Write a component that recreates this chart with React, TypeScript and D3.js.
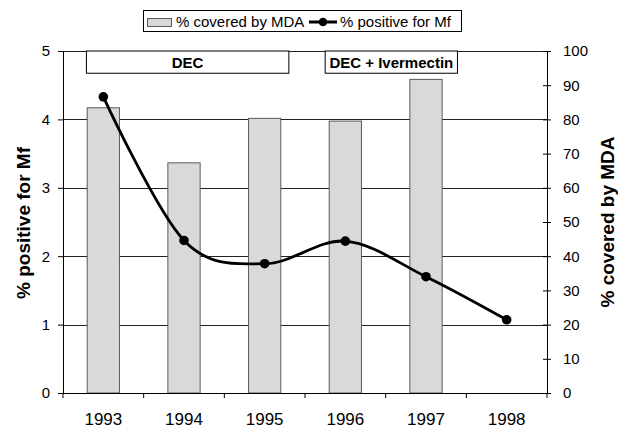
import React, { useEffect, useRef } from 'react';
import * as d3 from 'd3';

// values
const years = ['1993', '1994', '1995', '1996', '1997', '1998'];
const mdaCoverage = [83.4, 67.3, 80.3, 79.5, 91.7, null]; // % covered by MDA (right axis)
const mfPositive = [4.33, 2.23, 1.89, 2.22, 1.70, 1.07]; // % positive for Mf (left axis)
const leftTicks = [0, 1, 2, 3, 4, 5];
const rightTicks = [0, 10, 20, 30, 40, 50, 60, 70, 80, 90, 100];
// treatment periods, in year-index units (0 = 1993)
const periods = [
  { label: 'DEC', from: -0.21, to: 2.3 },
  { label: 'DEC + Ivermectin', from: 2.75, to: 4.39 },
];

const FONT = '"Liberation Sans", Arial, Helvetica, sans-serif';

export default function App() {
  const ref = useRef<SVGSVGElement>(null);

  useEffect(() => {
    const width = 618, height = 429;
    const margin = { top: 51, right: 71, bottom: 36, left: 63 };
    const x0 = margin.left, x1 = width - margin.right;
    const y0 = height - margin.bottom, y1 = margin.top;

    const svg = d3.select(ref.current);
    svg.selectAll('*').remove();

    const x = d3.scaleBand().domain(years).range([x0, x1]).padding(0);
    const xIdx = d3.scaleLinear().domain([-0.5, years.length - 0.5]).range([x0, x1]);
    const yL = d3.scaleLinear().domain([0, 5]).range([y0, y1]);
    const yR = d3.scaleLinear().domain([0, 100]).range([y0, y1]);

    // gridlines
    svg.append('g').selectAll('line').data(leftTicks.filter(d => d > 0)).join('line')
      .attr('x1', x0).attr('x2', x1)
      .attr('y1', d => Math.round(yL(d)) + 0.5).attr('y2', d => Math.round(yL(d)) + 0.5)
      .attr('stroke', '#222').attr('stroke-width', 1);

    // bars
    const bw = x.bandwidth() * 0.4;
    const barData = years.map((y, i) => ({ year: y, v: mdaCoverage[i] })).filter(d => d.v != null);
    svg.append('g').selectAll('rect').data(barData).join('rect')
      .attr('x', d => (x(d.year) as number) + (x.bandwidth() - bw) / 2)
      .attr('y', d => yR(d.v as number))
      .attr('width', bw)
      .attr('height', d => y0 - yR(d.v as number))
      .attr('fill', '#d9d9d9')
      .attr('stroke', '#5a5a5a')
      .attr('stroke-width', 1);

    // treatment period boxes
    const pg = svg.append('g');
    periods.forEach(p => {
      pg.append('rect')
        .attr('x', xIdx(p.from)).attr('y', yL(5))
        .attr('width', xIdx(p.to) - xIdx(p.from))
        .attr('height', yL(4.675) - yL(5))
        .attr('fill', '#fff').attr('stroke', '#000').attr('stroke-width', 1);
      pg.append('text')
        .attr('x', (xIdx(p.from) + xIdx(p.to)) / 2)
        .attr('y', (yL(5) + yL(4.675)) / 2)
        .attr('text-anchor', 'middle').attr('dominant-baseline', 'central')
        .style('font-family', FONT).style('font-size', '15px').style('font-weight', 'bold')
        .text(p.label);
    });

    // line
    const pts = years.map((y, i) => ({ year: y, v: mfPositive[i] }));
    const cx = (d: any) => (x(d.year) as number) + x.bandwidth() / 2;
    const line = d3.line<any>().x(cx).y(d => yL(d.v)).curve(d3.curveCardinal.tension(0));
    svg.append('path').datum(pts).attr('d', line)
      .attr('fill', 'none').attr('stroke', '#000').attr('stroke-width', 2.8);
    svg.append('g').selectAll('circle').data(pts).join('circle')
      .attr('cx', cx).attr('cy', d => yL(d.v)).attr('r', 4.8).attr('fill', '#000');

    // left axis
    const gl = svg.append('g').attr('transform', `translate(${x0},0)`)
      .call(d3.axisLeft(yL).tickValues(leftTicks).tickSize(5).tickSizeOuter(0).tickPadding(8).tickFormat(d3.format('d')));
    gl.selectAll('text').style('font-family', FONT).style('font-size', '15px').attr('fill', '#000');

    // right axis (ticks cross the line)
    const gr = svg.append('g').attr('transform', `translate(${x1},0)`)
      .call(d3.axisRight(yR).tickValues(rightTicks).tickSize(4).tickSizeOuter(0).tickPadding(12));
    gr.selectAll('.tick line').attr('x1', -4);
    gr.selectAll('text').style('font-family', FONT).style('font-size', '15px').attr('fill', '#000');

    // bottom axis: labels at centres, ticks at band edges
    const gb = svg.append('g').attr('transform', `translate(0,${y0})`)
      .call(d3.axisBottom(x).tickSize(0).tickPadding(20).tickSizeOuter(0));
    gb.select('.domain').attr('d', `M${x0},0.5H${x1}`);
    gb.selectAll('text').style('font-family', FONT).style('font-size', '17px').attr('fill', '#000');
    gb.selectAll('.edge').data(d3.range(years.length + 1)).join('line')
      .attr('class', 'edge')
      .attr('x1', i => xIdx(i - 0.5)).attr('x2', i => xIdx(i - 0.5))
      .attr('y1', 0).attr('y2', 5).attr('stroke', '#000');

    // axis titles
    svg.append('text')
      .attr('transform', `translate(30,${(y0 + y1) / 2 + 1}) rotate(-90)`)
      .attr('text-anchor', 'middle')
      .style('font-family', FONT).style('font-size', '19px').style('font-weight', 'bold')
      .text('% positive for Mf');
    svg.append('text')
      .attr('transform', `translate(614,${(y0 + y1) / 2}) rotate(-90)`)
      .attr('text-anchor', 'middle')
      .style('font-family', FONT).style('font-size', '19px').style('font-weight', 'bold')
      .text('% covered by MDA');

    // legend
    const lg = svg.append('g');
    lg.append('rect').attr('x', 143.5).attr('y', 10.5).attr('width', 318).attr('height', 21)
      .attr('fill', '#fff').attr('stroke', '#000');
    lg.append('rect').attr('x', 147.5).attr('y', 18.5).attr('width', 24).attr('height', 8)
      .attr('fill', '#d9d9d9').attr('stroke', '#5a5a5a');
    lg.append('text').attr('x', 176).attr('y', 21.5).attr('dominant-baseline', 'central')
      .style('font-family', FONT).style('font-size', '15px').text('% covered by MDA');
    lg.append('line').attr('x1', 309).attr('x2', 337).attr('y1', 22).attr('y2', 22)
      .attr('stroke', '#000').attr('stroke-width', 3);
    lg.append('circle').attr('cx', 323).attr('cy', 22).attr('r', 4.3).attr('fill', '#000');
    lg.append('text').attr('x', 340).attr('y', 21.5).attr('dominant-baseline', 'central')
      .style('font-family', FONT).style('font-size', '15px').text('% positive for Mf');
  }, []);

  return (
    <svg ref={ref} width={618} height={429}
      style={{ position: 'absolute', left: 0, top: 0, display: 'block', background: '#fff' }} />
  );
}
